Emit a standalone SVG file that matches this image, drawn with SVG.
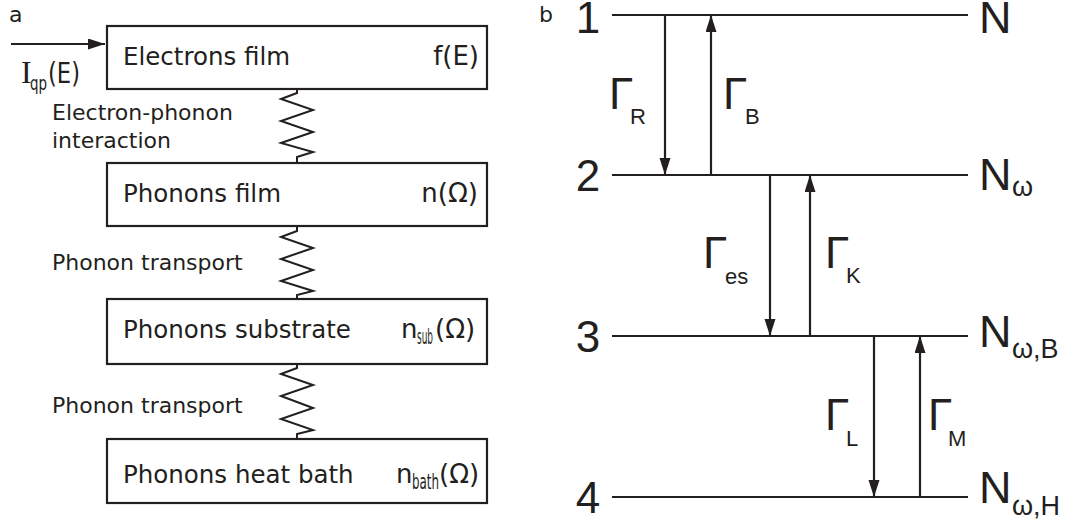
<svg xmlns="http://www.w3.org/2000/svg" width="1069" height="527" viewBox="0 0 1069 527">
<defs>
<style>
.box{fill:#fff;stroke:#231f20;stroke-width:2.2}
.ln{stroke:#231f20;stroke-width:2.2;fill:none}
.sp{stroke:#231f20;stroke-width:2;fill:none;stroke-linejoin:miter}
.t{font-family:"DejaVu Sans",Verdana,sans-serif;fill:#231f20}
.bt{font-size:24.5px}
.rt{font-size:26px}
.lb{font-size:22px}
.r{font-family:"Liberation Sans",Arial,sans-serif;fill:#231f20}
.big{font-size:44px}
.sub{font-size:22px}
.nsub{font-size:27px}
</style>
<marker id="ah" markerUnits="userSpaceOnUse" markerWidth="18" markerHeight="12" refX="17" refY="5.5" orient="auto">
<path d="M0,0 L17,5.5 L0,11 Z" fill="#231f20"/>
</marker>
</defs>
<rect width="1069" height="527" fill="#fff"/>

<!-- panel labels -->
<text class="t" x="9" y="22" font-size="22">a</text>
<text class="t" x="539" y="22" font-size="22">b</text>

<!-- left panel nodes -->
<g id="electrons-film">
<rect class="box" x="107" y="26" width="380" height="63"/>
<text class="t bt" x="123" y="65">Electrons film</text>
<text class="t rt" x="479" y="65" text-anchor="end">f(E)</text>
</g>
<g id="phonons-film">
<rect class="box" x="107" y="163" width="380" height="63"/>
<text class="t bt" x="123" y="202">Phonons film</text>
<text class="t rt" x="478" y="202" text-anchor="end">n(Ω)</text>
</g>
<g id="phonons-substrate">
<rect class="box" x="107" y="299" width="380" height="65"/>
<text class="t bt" x="123" y="338">Phonons substrate</text>
<text class="t rt" x="401" y="338">n</text>
<text class="t" x="417" y="344" font-size="21" textLength="16" lengthAdjust="spacingAndGlyphs">sub</text>
<text class="t rt" x="435" y="338">(Ω)</text>
</g>
<g id="phonons-heat-bath">
<rect class="box" x="107" y="439" width="380" height="64"/>
<text class="t bt" x="123" y="483">Phonons heat bath</text>
<text class="t rt" x="396" y="483">n</text>
<text class="t" x="412" y="489" font-size="21" textLength="27" lengthAdjust="spacingAndGlyphs">bath</text>
<text class="t rt" x="439" y="483">(Ω)</text>
</g>

<!-- input label -->
<g id="input-current">
<text x="21" y="83" font-family="Liberation Serif,serif" font-size="32" fill="#231f20">I</text>
<text class="t" x="30" y="90" font-size="20" textLength="17" lengthAdjust="spacingAndGlyphs">qp</text>
<text class="t" x="48" y="83" font-size="28" textLength="32" lengthAdjust="spacingAndGlyphs">(E)</text>
</g>

<!-- right panel level nodes -->
<g id="level-1">
<line class="ln" x1="612" y1="15" x2="968" y2="15"/>
<text class="r big" x="588" y="33" text-anchor="middle">1</text>
<text class="r" x="979" y="33" font-size="45">N</text>
</g>
<g id="level-2">
<line class="ln" x1="612" y1="175" x2="968" y2="175"/>
<text class="r big" x="588" y="191" text-anchor="middle">2</text>
<text class="r" x="979" y="190" font-size="45">N</text>
<text class="r nsub" x="1012" y="196">ω</text>
</g>
<g id="level-3">
<line class="ln" x1="612" y1="336" x2="968" y2="336"/>
<text class="r big" x="588" y="352" text-anchor="middle">3</text>
<text class="r" x="979" y="347" font-size="45">N</text>
<text class="r nsub" x="1012" y="358">ω,B</text>
</g>
<g id="level-4">
<line class="ln" x1="612" y1="497" x2="968" y2="497"/>
<text class="r big" x="588" y="513" text-anchor="middle">4</text>
<text class="r" x="979" y="503" font-size="45">N</text>
<text class="r nsub" x="1012" y="515">ω,H</text>
</g>

<!-- connectors -->
<g id="connectors">
<line class="ln" x1="11" y1="44" x2="105" y2="44" marker-end="url(#ah)"/>
<path class="sp" d="M297,89 L297,93 L281,99 L313,110 L281,121 L313,132 L281,143 L313,152 L297,157 L297,163"/>
<path class="sp" d="M297,226 L297,231 L281,237 L313,248 L281,259 L313,270 L281,281 L313,291 L297,295 L297,299"/>
<path class="sp" d="M297,364 L297,368 L281,374 L313,385 L281,396 L313,408 L281,419 L313,430 L297,434 L297,439"/>
<line class="ln" x1="665" y1="15" x2="665" y2="175" marker-end="url(#ah)"/>
<line class="ln" x1="711" y1="175" x2="711" y2="15" marker-end="url(#ah)"/>
<line class="ln" x1="770" y1="175" x2="770" y2="336" marker-end="url(#ah)"/>
<line class="ln" x1="810" y1="336" x2="810" y2="175" marker-end="url(#ah)"/>
<line class="ln" x1="874" y1="336" x2="874" y2="497" marker-end="url(#ah)"/>
<line class="ln" x1="920" y1="497" x2="920" y2="336" marker-end="url(#ah)"/>
</g>

<!-- connector labels -->
<text class="t lb" x="52" y="120">Electron-phonon</text>
<text class="t lb" x="52" y="148">interaction</text>
<text class="t lb" x="52" y="270">Phonon transport</text>
<text class="t lb" x="52" y="413">Phonon transport</text>

<text class="r big" x="609" y="109">Γ</text><text class="r sub" x="630" y="124">R</text>
<text class="r big" x="723" y="109">Γ</text><text class="r sub" x="745" y="124">B</text>
<text class="r big" x="703" y="268">Γ</text><text class="r sub" x="725" y="284">es</text>
<text class="r big" x="825" y="268">Γ</text><text class="r sub" x="846" y="283">K</text>
<text class="r big" x="825" y="430">Γ</text><text class="r sub" x="846" y="446">L</text>
<text class="r big" x="928" y="430">Γ</text><text class="r sub" x="948" y="446">M</text>
</svg>
